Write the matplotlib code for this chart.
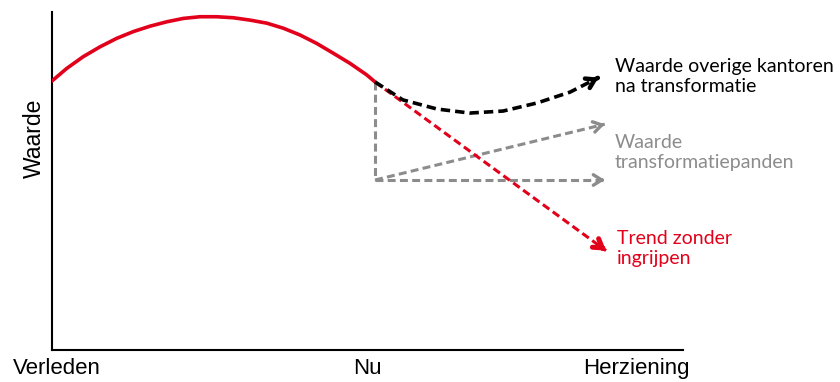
import matplotlib
matplotlib.use("Agg")
import matplotlib.pyplot as plt

# ==========================================
# DATA (x: 0 = verleden, ~51 = nu; y: waarde index)
# ==========================================

hist_x = [0, 2.33, 4.96, 7.61, 10.25, 12.88, 15.53, 18.18, 20.81, 23.45, 26.1,
          28.73, 31.38, 34.03, 36.66, 39.3, 41.95, 44.58, 47.23, 49.87, 51.2]
hist_y = [79.6, 83.3, 86.8, 89.7, 92.2, 94.2, 95.8, 97.1, 98.1, 98.6, 98.6,
          98.3, 97.6, 96.7, 95.2, 93.2, 90.7, 87.8, 84.8, 81.4, 79.3]

overig_x = [51.2, 55.6, 61.0, 66.2, 71.5, 76.9, 82.1, 86.6]
overig_y = [79.3, 74.0, 71.3, 70.1, 70.7, 73.1, 76.3, 80.6]

nu_x = 51.2
nu_waarde = 79.3
transfo_start = 50.3
transfo_eind_x = 87.6
transfo_eind_hoog = 66.8

trend_x = [51.2, 87.8]
trend_y = [79.3, 29.4]

tick_pos = [0.8, 50.0, 92.6]
tick_labels = ["Verleden", "Nu", "Herziening"]

RED = "#e2001a"
GREY = "#8c8c8c"
BLACK = "#000000"

LABEL_FONT = ["Lato", "DejaVu Sans"]

# ==========================================
# FIGURE
# ==========================================

fig = plt.figure(figsize=(8.4, 3.82), dpi=100)
ax = fig.add_axes([52 / 840, 32 / 382, 631 / 840, 338 / 382])

ax.set_xlim(0, 100)
ax.set_ylim(0, 100)

for side in ["top", "right"]:
    ax.spines[side].set_visible(False)
for side in ["left", "bottom"]:
    ax.spines[side].set_linewidth(1.5)
    ax.spines[side].set_color(BLACK)

ax.set_yticks([])
ax.set_xticks(tick_pos)
ax.set_xticklabels(tick_labels, family="Liberation Sans", fontsize=16)
ax.tick_params(axis="x", length=0, pad=6)

ax.set_ylabel("Waarde", family="Liberation Sans", fontsize=16.5)
ax.yaxis.set_label_coords(-0.01, 0.627)

dash = (2.6, 1.4)


def arrow_head(x0, y0, x1, y1, color, lw):
    # alleen een pijlpunt op het eind van een gestippelde lijn
    f = 0.02
    ax.annotate("", xy=(x1, y1), xytext=(x1 - (x1 - x0) * f, y1 - (y1 - y0) * f),
                arrowprops=dict(arrowstyle="->,head_length=0.6,head_width=0.38",
                                color=color, lw=lw, shrinkA=0, shrinkB=0), zorder=7)


# historie
ax.plot(hist_x, hist_y, color=RED, lw=2.6, solid_capstyle="round", solid_joinstyle="round", zorder=5)

# transformatiepanden (grijs)
ax.plot([nu_x, nu_x], [nu_waarde, transfo_start], color=GREY, lw=2.2, dashes=dash)
ax.plot([nu_x, transfo_eind_x], [transfo_start, transfo_start], color=GREY, lw=2.2, dashes=dash)
ax.plot([nu_x, transfo_eind_x], [transfo_start, transfo_eind_hoog], color=GREY, lw=2.2, dashes=dash)
arrow_head(nu_x, transfo_start, transfo_eind_x, transfo_start, GREY, 2.4)
arrow_head(nu_x, transfo_start, transfo_eind_x, transfo_eind_hoog, GREY, 2.4)

# trend zonder ingrijpen
ax.plot(trend_x, trend_y, color=RED, lw=2.2, dashes=dash, zorder=4)
arrow_head(trend_x[0], trend_y[0], trend_x[1], trend_y[1], RED, 3.6)

# overige kantoren
ax.plot(overig_x, overig_y, color=BLACK, lw=2.6, dashes=dash, zorder=6)
arrow_head(overig_x[-2], overig_y[-2], overig_x[-1], overig_y[-1], BLACK, 3.2)

# labels
ax.text(89.2, 80.9, "Waarde overige kantoren\nna transformatie", color=BLACK,
        fontsize=14, family=LABEL_FONT, va="center", ha="left", linespacing=1.2, clip_on=False)
ax.text(89.2, 58.4, "Waarde\ntransformatiepanden", color=GREY,
        fontsize=14, family=LABEL_FONT, va="center", ha="left", linespacing=1.2, clip_on=False)
ax.text(89.5, 30.0, "Trend zonder\ningrijpen", color=RED,
        fontsize=14, family=LABEL_FONT, va="center", ha="left", linespacing=1.2, clip_on=False)

fig.savefig("out.png", dpi=100)
